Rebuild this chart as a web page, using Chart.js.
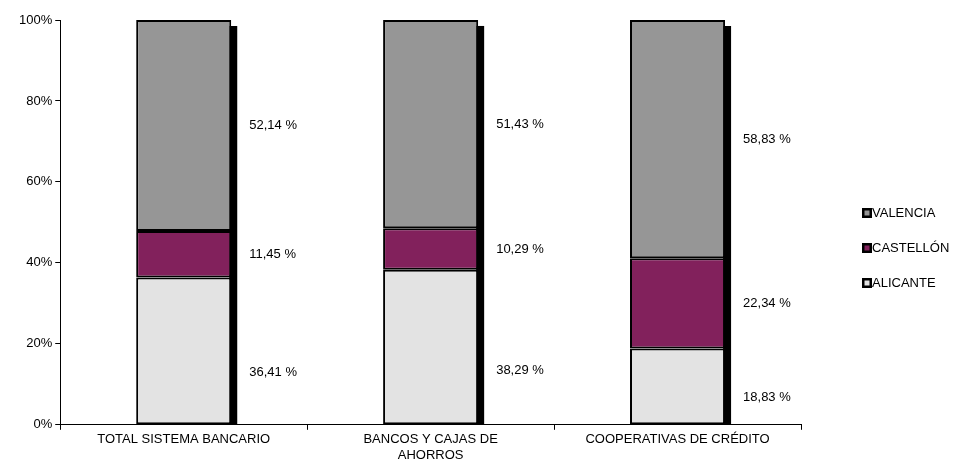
<!DOCTYPE html>
<html>
<head>
<meta charset="utf-8">
<script src="https://cdn.jsdelivr.net/npm/chart.js@4"></script>
<style>
  html, body { margin: 0; padding: 0; background: #fff; }
  #wrap { width: 962px; height: 467px; }
</style>
</head>
<body>
<div id="wrap"><canvas id="chart" width="962" height="467"></canvas></div>
<script>
// Chart data
const categories = ['TOTAL SISTEMA BANCARIO', ['BANCOS Y CAJAS DE', 'AHORROS'], 'COOPERATIVAS DE CRÉDITO'];
const alicante = [36.41, 38.29, 18.83];
const castellon = [11.45, 10.29, 22.34];
const valencia = [52.14, 51.43, 58.83];
const seriesNames = ['ALICANTE', 'CASTELLÓN', 'VALENCIA'];
const seriesColors = ['#e3e3e3', '#82215c', '#969696'];

const FONT = 'Liberation Sans, Arial, sans-serif';

function fmt(v) {
  return v.toFixed(2).replace('.', ',') + ' %';
}

// Black drop shadow behind each stacked column
const shadowPlugin = {
  id: 'shadow',
  beforeDatasetsDraw(chart) {
    const ctx = chart.ctx;
    const top = chart.getDatasetMeta(chart.data.datasets.length - 1).data;
    const bottom = chart.getDatasetMeta(0).data;
    ctx.save();
    ctx.fillStyle = '#000';
    top.forEach((bar, i) => {
      const right = bar.x + bar.width / 2;
      ctx.fillRect(right - 2, bar.y + 6, 8, bottom[i].base - bar.y - 6);
    });
    ctx.restore();
  }
};

// Value labels to the right of each segment, and the legend
const labelPlugin = {
  id: 'valueLabels',
  afterDatasetsDraw(chart) {
    const ctx = chart.ctx;
    ctx.save();
    ctx.font = '13px ' + FONT;
    ctx.fillStyle = '#000';
    ctx.textBaseline = 'middle';
    chart.data.datasets.forEach((ds, di) => {
      const meta = chart.getDatasetMeta(di);
      meta.data.forEach((bar, i) => {
        const frac = di === 0 ? 0.35 : 0.5;
        const y = bar.base - (bar.base - bar.y) * frac;
        ctx.fillText(fmt(ds.data[i]), bar.x + bar.width / 2 + 18, y);
      });
    });
    // legend
    ctx.font = '13px ' + FONT;
    const ys = [283, 248, 213];
    seriesNames.forEach((name, i) => {
      ctx.fillStyle = '#000';
      ctx.fillRect(862, ys[i] - 5, 10, 10);
      ctx.fillStyle = seriesColors[i];
      ctx.fillRect(864.5, ys[i] - 2.5, 5, 5);
      ctx.fillStyle = '#000';
      ctx.fillText(name, 872, ys[i]);
    });
    ctx.restore();
  }
};

function makeDataset(label, data, color) {
  return {
    label: label,
    data: data,
    backgroundColor: color,
    borderColor: '#000',
    borderWidth: 2,
    borderSkipped: false,
    barPercentage: 0.77,
    categoryPercentage: 0.5
  };
}

new Chart(document.getElementById('chart'), {
  type: 'bar',
  data: {
    labels: categories,
    datasets: [
      makeDataset(seriesNames[0], alicante, seriesColors[0]),
      makeDataset(seriesNames[1], castellon, seriesColors[1]),
      makeDataset(seriesNames[2], valencia, seriesColors[2])
    ]
  },
  options: {
    responsive: false,
    animation: false,
    layout: { padding: { top: 20, right: 161, left: 16, bottom: 2 } },
    plugins: {
      legend: { display: false },
      tooltip: { enabled: false }
    },
    scales: {
      x: {
        stacked: true,
        grid: { offset: true, drawOnChartArea: false, color: '#000', tickLength: 5 },
        border: { color: '#000' },
        ticks: { color: '#000', font: { family: FONT, size: 13 }, maxRotation: 0, padding: 2 }
      },
      y: {
        stacked: true,
        min: 0,
        max: 100,
        grid: { drawOnChartArea: false, color: '#000', tickLength: 5 },
        border: { color: '#000' },
        ticks: {
          stepSize: 20,
          color: '#000',
          font: { family: FONT, size: 13 },
          callback: v => v + '%'
        }
      }
    }
  },
  plugins: [shadowPlugin, labelPlugin]
});
</script>
</body>
</html>
